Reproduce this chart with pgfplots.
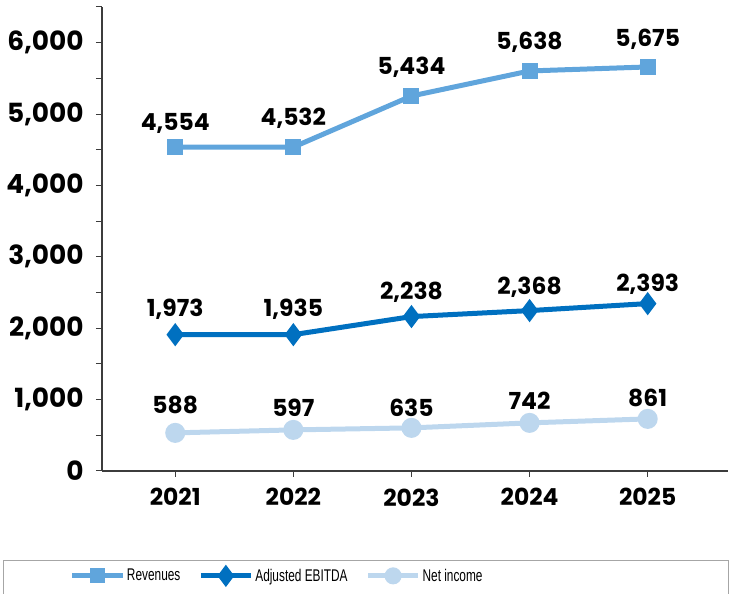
\documentclass[border=0pt]{standalone}
\usepackage{fontspec}
\setmainfont{Liberation Sans}
\newfontfamily\lblfont{Poppins}
\newfontfamily\legfont[FakeStretch=0.7]{Liberation Sans}
\usepackage{pgfplots}
\usepackage{pgfplotstable}
\pgfplotsset{compat=1.18}
\definecolor{rev}{RGB}{96,165,220}
\definecolor{ebit}{RGB}{0,112,192}
\definecolor{neti}{RGB}{189,215,238}
\definecolor{axc}{RGB}{60,60,60}

\pgfplotstableread{
x y ly label
0 4537 4874 {4,554}
1 4537 4944 {4,532}
2 5253 5660 {5,434}
3 5604 6011 {5,638}
4 5660 6053 {5,675}
}\rev
\pgfplotstableread{
x y ly label
0 1910 2261 {1,973}
1 1910 2261 {1,935}
2 2163 2500 {2,238}
3 2247 2570 {2,368}
4 2345 2612 {2,393}
}\ebit
\pgfplotstableread{
x y ly label
0 534 927 {588}
1 576 885 {597}
2 604 885 {635}
3 674 983 {742}
4 730 1025 {861}
}\neti

\begin{document}
\begin{tikzpicture}[x=1bp,y=1bp]
\begin{axis}[
  scale only axis, width=626bp, height=464bp,
  xmin=-0.62, xmax=4.68, ymin=0, ymax=6500,
  axis lines*=left,
  axis line style={axc, line width=1.2bp},
  xtick={0,1,2,3,4},
  xticklabels={2021,2022,2023,2024,2025},
  ytick={0,1000,2000,3000,4000,5000,6000},
  minor ytick={500,1500,2500,3500,4500,5500,6500},
  tick align=outside,
  major tick length=6bp, minor tick length=6bp,
  tick style={axc, line width=1bp},
  scaled y ticks=false,
  /pgf/number format/assume math mode=true,
  /pgf/number format/1000 sep={,},
  yticklabel style={font=\lblfont\bfseries\fontsize{26.5}{26.5}\selectfont, text=black, xshift=-9bp},
  xticklabel style={font=\lblfont\bfseries\fontsize{23.5}{23.5}\selectfont, text=black, yshift=-8bp},
  clip=false,
  legend columns=3,
  legend style={at={(0.28,-0.226)}, anchor=center, draw=none, fill=none,
    font=\legfont\fontsize{17}{17}\selectfont,
    /tikz/every even column/.append style={column sep=16bp}},
  nodes near coords style={anchor=center, font=\lblfont\bfseries\fontsize{23.5}{23.5}\selectfont, text=black},
]
\coordinate (SW) at (rel axis cs:0,0);
\addplot[rev, line width=5bp, mark=square*, mark size=5.5bp,
  legend image code/.code={\draw[mark size=5bp,mark repeat=2,mark phase=2] plot coordinates {(0bp,0bp)(25bp,0bp)(50bp,0bp)};}]
  table[x=x,y=y]{\rev};
\addlegendentry{Revenues}
\addplot[ebit, line width=5bp, mark=diamond*, mark size=7.5bp,
  legend image code/.code={\draw[mark size=7bp,mark repeat=2,mark phase=2] plot coordinates {(0bp,0bp)(25bp,0bp)(50bp,0bp)};}]
  table[x=x,y=y]{\ebit};
\addlegendentry{Adjusted EBITDA}
\addplot[neti, line width=5bp, mark=*, mark size=7.5bp,
  legend image code/.code={\draw[mark size=6bp,mark repeat=2,mark phase=2] plot coordinates {(0bp,0bp)(25bp,0bp)(50bp,0bp)};}]
  table[x=x,y=y]{\neti};
\addlegendentry{Net income}
\addplot[draw=none, mark=none, nodes near coords, point meta=explicit symbolic, forget plot]
  table[x=x,y=ly,meta=label]{\rev};
\addplot[draw=none, mark=none, nodes near coords, point meta=explicit symbolic, forget plot]
  table[x=x,y=ly,meta=label]{\ebit};
\addplot[draw=none, mark=none, nodes near coords, point meta=explicit symbolic, forget plot]
  table[x=x,y=ly,meta=label]{\neti};
\end{axis}
\draw[gray!70, line width=0.8bp] ([shift={(-99,-133)}]SW) rectangle ([shift={(626.5,-89)}]SW);
\pgfresetboundingbox
\path ([shift={(-102,-123)}]SW) rectangle ([shift={(627,471)}]SW);
\end{tikzpicture}
\end{document}
